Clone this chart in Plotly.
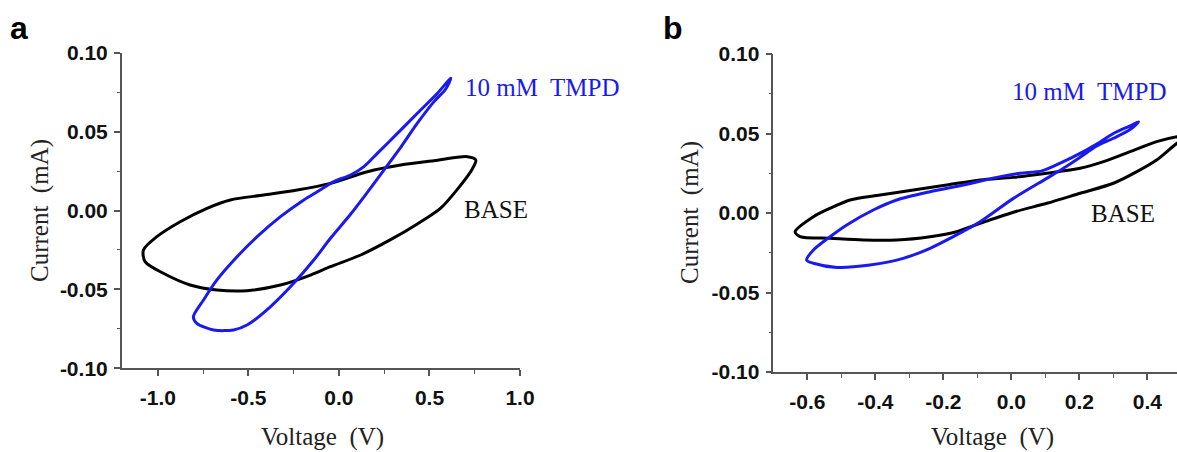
import plotly.graph_objects as go

# ---------------- data ----------------
# Panel a, BASE loop (voltage V, current mA)
a_base_v = [0.756, 0.71, 0.525, 0.341, 0.157, -0.047, -0.231, -0.416, -0.6, -0.729, -0.877, -1.006, -1.08,
            -1.071, -0.97, -0.822, -0.674, -0.508, -0.323, -0.157, -0.047, 0.12, 0.28, 0.433, 0.562, 0.665, 0.735, 0.756]
a_base_i = [0.032, 0.0341, 0.0316, 0.0288, 0.0246, 0.0172, 0.013, 0.0098, 0.0067, 0.0014, -0.0071, -0.0166, -0.025,
            -0.0324, -0.0398, -0.0472, -0.0504, -0.0508, -0.0472, -0.0409, -0.0356, -0.0282, -0.0188, -0.0085, 0.0015, 0.015, 0.026, 0.032]

# Panel a, 10 mM TMPD loop
a_tmpd_v = [0.618, 0.544, 0.433, 0.323, 0.212, 0.138, 0.064, -0.028, -0.12, -0.194, -0.323, -0.452, -0.563, -0.674,
            -0.748, -0.804, -0.785, -0.693, -0.582, -0.508, -0.379, -0.25, -0.139, -0.047, 0.064, 0.157, 0.249, 0.341,
            0.433, 0.525, 0.59, 0.618]
a_tmpd_i = [0.0838, 0.0743, 0.0616, 0.0489, 0.0362, 0.0278, 0.0225, 0.0183, 0.0119, 0.0067, -0.0039, -0.0166, -0.0293, -0.044,
            -0.0567, -0.0673, -0.0715, -0.0757, -0.0757, -0.0726, -0.061, -0.0461, -0.0314, -0.0176, -0.0024, 0.0115, 0.0257, 0.040,
            0.0553, 0.069, 0.077, 0.0838]

# Panel b, BASE loop
b_base_v = [0.53, 0.487, 0.427, 0.349, 0.271, 0.202, 0.104, 0.006, -0.092, -0.19, -0.288, -0.386, -0.474, -0.533, -0.582,
            -0.636, -0.621, -0.533, -0.435, -0.337, -0.239, -0.161, -0.092, 0.006, 0.104, 0.202, 0.3, 0.369, 0.427, 0.487, 0.53]
b_base_i = [0.049, 0.048, 0.0449, 0.0386, 0.0323, 0.0281, 0.025, 0.0224, 0.0208, 0.0176, 0.0145, 0.0113, 0.0082, 0.003, -0.0023,
            -0.0118, -0.0149, -0.0159, -0.017, -0.017, -0.0149, -0.0118, -0.0065, 0.0005, 0.0061, 0.0124, 0.0187, 0.026, 0.0333, 0.0438, 0.049]

# Panel b, 10 mM TMPD loop
b_tmpd_v = [0.374, 0.349, 0.3, 0.251, 0.202, 0.153, 0.09, 0.026, -0.043, -0.141, -0.239, -0.337, -0.406, -0.484, -0.533, -0.582,
            -0.602, -0.582, -0.513, -0.416, -0.318, -0.239, -0.161, -0.092, 0.006, 0.104, 0.153, 0.202, 0.251, 0.3, 0.349, 0.374]
b_tmpd_i = [0.0574, 0.0548, 0.050, 0.0434, 0.0375, 0.0323, 0.0265, 0.025, 0.0224, 0.0176, 0.0134, 0.0082, 0.0019, -0.0075, -0.0149, -0.0233,
            -0.0296, -0.0316, -0.0342, -0.0327, -0.0285, -0.0222, -0.0138, -0.0055, 0.0092, 0.0218, 0.0281, 0.035, 0.0421, 0.047, 0.0525, 0.0574]

# Tick labels
y_tickvals = [-0.10, -0.05, 0.00, 0.05, 0.10]
y_ticktext = ["-0.10", "-0.05", "0.00", "0.05", "0.10"]
y_minor = [-0.075, -0.025, 0.025, 0.075]
a_x_tickvals = [-1.0, -0.5, 0.0, 0.5, 1.0]
a_x_ticktext = ["-1.0", "-0.5", "0.0", "0.5", "1.0"]
a_x_minor = [-0.75, -0.25, 0.25, 0.75]
b_x_tickvals = [-0.6, -0.4, -0.2, 0.0, 0.2, 0.4]
b_x_ticktext = ["-0.6", "-0.4", "-0.2", "0.0", "0.2", "0.4"]
b_x_minor = [-0.5, -0.3, -0.1, 0.1, 0.3]

# ---------------- figure ----------------
W, H = 1177, 452
BLACK = "#000000"
BLUE = "#1a1af0"
AXC = "#555555"
SERIF = "Liberation Serif, Times New Roman, serif"
SANS = "Liberation Sans, Arial, sans-serif"

fig = go.Figure()
fig.add_trace(go.Scatter(x=a_base_v, y=a_base_i, mode="lines", line=dict(color=BLACK, width=3, shape="spline", smoothing=0.8),
                         xaxis="x", yaxis="y", showlegend=False))
fig.add_trace(go.Scatter(x=a_tmpd_v, y=a_tmpd_i, mode="lines", line=dict(color=BLUE, width=3, shape="spline", smoothing=0.8),
                         xaxis="x", yaxis="y", showlegend=False))
fig.add_trace(go.Scatter(x=b_base_v, y=b_base_i, mode="lines", line=dict(color=BLACK, width=3, shape="spline", smoothing=0.8),
                         xaxis="x2", yaxis="y2", showlegend=False))
fig.add_trace(go.Scatter(x=b_tmpd_v, y=b_tmpd_i, mode="lines", line=dict(color=BLUE, width=3, shape="spline", smoothing=0.8),
                         xaxis="x2", yaxis="y2", showlegend=False))

tickfont = dict(family=SANS, size=21, color="#111111", weight="bold")

def xax(domain, rng, tv, tt, minor, anchor):
    return dict(domain=domain, range=rng, tickvals=tv, ticktext=tt, showline=True, linecolor=AXC, linewidth=1.5,
                ticks="outside", ticklen=6, tickwidth=1.5, tickcolor=AXC, showgrid=False, zeroline=False,
                tickfont=tickfont, anchor=anchor, ticklabelstandoff=4, automargin=False,
                minor=dict(tickvals=minor, ticks="outside", ticklen=4, tickwidth=1.2, tickcolor=AXC, showgrid=False))

def yax(domain, anchor):
    return dict(domain=domain, range=[-0.10, 0.10], tickvals=y_tickvals, ticktext=y_ticktext, showline=True,
                linecolor=AXC, linewidth=1.5, ticks="outside", ticklen=6, tickwidth=1.5, tickcolor=AXC,
                showgrid=False, zeroline=False, tickfont=tickfont, anchor=anchor, ticklabelstandoff=2, automargin=False,
                minor=dict(tickvals=y_minor, ticks="outside", ticklen=3, tickwidth=1.2, tickcolor=AXC, showgrid=False))

fig.update_layout(
    width=W, height=H, margin=dict(l=0, r=0, t=0, b=0, pad=0), autosize=False,
    paper_bgcolor="white", plot_bgcolor="white",
    xaxis=xax([121.7 / W, 520 / W], [-1.2, 1.0], a_x_tickvals, a_x_ticktext, a_x_minor, "y"),
    yaxis=yax([(H - 368.3) / H, (H - 52.7) / H], "x"),
    xaxis2=xax([773.3 / W, 1.0], [-0.7, 0.487], b_x_tickvals, b_x_ticktext, b_x_minor, "y2"),
    yaxis2=yax([(H - 372) / H, (H - 54) / H], "x2"),
)

def ann(text, px, py, size, color, family, xanchor="left", yanchor="middle", angle=0, bold=False):
    fig.add_annotation(text=text, x=px / W, y=1 - py / H, xref="paper", yref="paper",
                       xanchor=xanchor, yanchor=yanchor, showarrow=False, textangle=angle,
                       font=dict(size=size, color=color, family=family, weight="bold" if bold else "normal"))

# labels on curves
ann("10 mM\u00a0 TMPD", 463, 87, 25, BLUE, SERIF)
ann("BASE", 462, 209, 25, "#111111", SERIF)
ann("10 mM\u00a0 TMPD", 1010, 92, 25, BLUE, SERIF)
ann("BASE", 1089, 214, 25, "#111111", SERIF)

# axis titles
ann("Voltage\u00a0 (V)", 322, 437, 25, "#222222", SERIF, xanchor="center")
ann("Voltage\u00a0 (V)", 992, 437, 25, "#222222", SERIF, xanchor="center")
ann("Current\u00a0 (mA)", 40, 211, 25, "#222222", SERIF, xanchor="center", angle=-90)
ann("Current\u00a0 (mA)", 690, 213, 25, "#222222", SERIF, xanchor="center", angle=-90)

# panel letters
ann("a", 8, 28, 32, "#000000", SANS, bold=True)
ann("b", 661, 28, 32, "#000000", SANS, bold=True)

fig.write_html("out.html")
